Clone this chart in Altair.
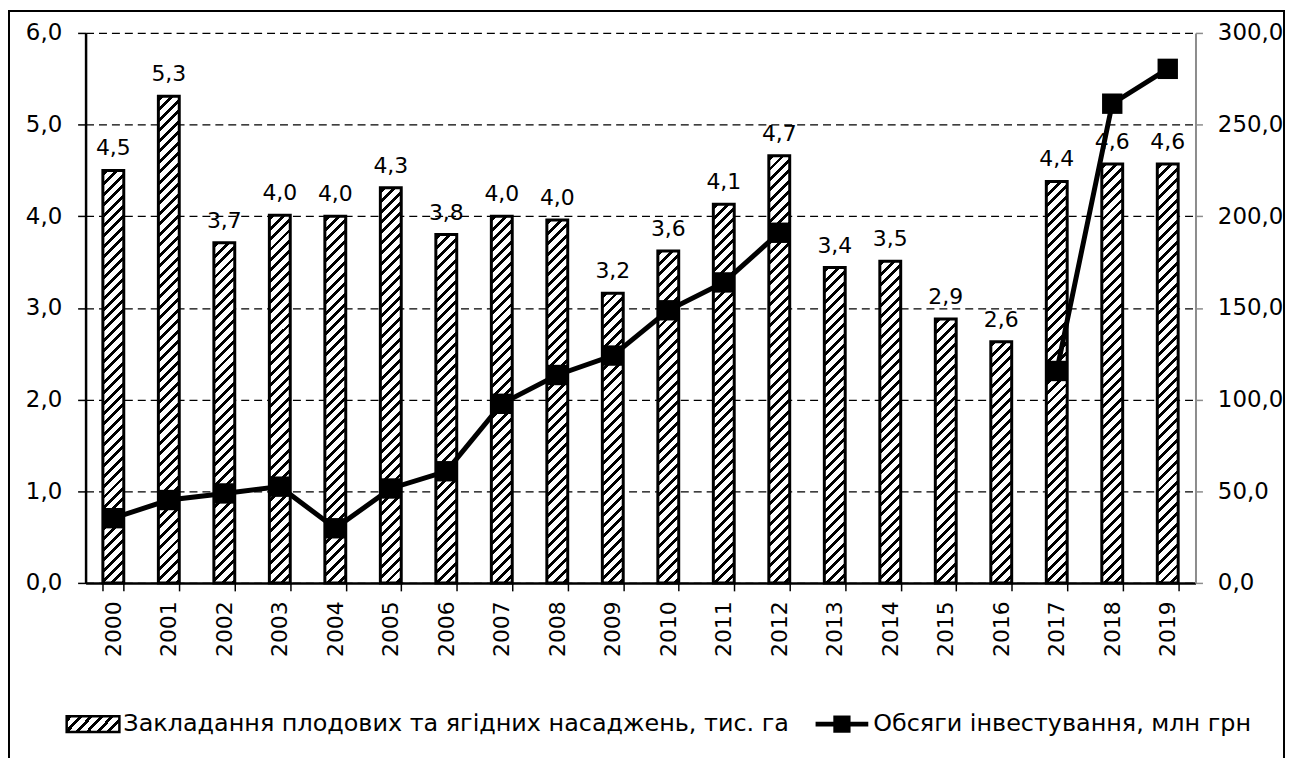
import altair as alt
import pandas as pd

# ---------------- data ----------------
years = [str(y) for y in range(2000, 2020)]
plantings = [4.50, 5.31, 3.71, 4.01, 4.00, 4.31, 3.80, 4.00, 3.96, 3.16,
             3.62, 4.13, 4.66, 3.44, 3.51, 2.88, 2.63, 4.38, 4.57, 4.57]
investment = [35.3, 45.2, 48.8, 52.5, 29.8, 51.5, 60.9, 97.7, 113.4, 124.0,
              148.7, 163.9, 191.0, None, None, None, None, 115.6, 261.4, 280.4]
left_ticks = [0, 1, 2, 3, 4, 5, 6]
right_ticks = [0, 50, 100, 150, 200, 250, 300]
legend_labels = ["Закладання плодових та ягідних насаджень, тис. га",
                 "Обсяги інвестування, млн грн"]

# ---------------- layout ----------------
W, H = 1116, 553
N = len(years)
BAR_W = 21
PI = 1 - BAR_W / (W / N)
FONT = "DejaVu Sans"
FS = 22
LBL = "replace(format(datum.value, '.1f'), '.', ',')"

bars_df = pd.DataFrame({"year": years, "v": plantings})
seg, cur, prev = [], 0, False
for val in investment:
    if val is not None and not prev:
        cur += 1
    seg.append(cur if val is not None else 0)
    prev = val is not None
line_df = pd.DataFrame({"year": years, "inv": investment, "seg": seg})
line_df = line_df[line_df["inv"].notna()]


def hatch(w, h, period=10.5, black=4.0):
    L = w + h
    k = L / (w * w + h * h)
    stops = [alt.GradientStop(offset=0, color="white")]
    s = 2.0
    while s < L:
        a = round(s / L, 5)
        b = round(min(s + black, L) / L, 5)
        stops += [alt.GradientStop(offset=a, color="white"),
                  alt.GradientStop(offset=a, color="black"),
                  alt.GradientStop(offset=b, color="black"),
                  alt.GradientStop(offset=b, color="white")]
        s += period
    stops.append(alt.GradientStop(offset=1, color="white"))
    return alt.LinearGradient(gradient="linear", stops=stops,
                              x1=0, y1=0, x2=round(k * w, 6), y2=round(k * h, 6))


x_enc = alt.X("year:O",
              scale=alt.Scale(domain=years, paddingInner=PI, paddingOuter=PI / 2),
              axis=alt.Axis(title=None, labelAngle=-90, labelFontSize=FS, labelFont=FONT,
                            labelColor="black", tickBand="extent", tickColor="black",
                            tickSize=8, tickWidth=1.5, domainColor="black", domainWidth=2.5,
                            labelPadding=10, grid=False))

y_left = alt.Y("v:Q",
               scale=alt.Scale(domain=[0, 6], nice=False),
               axis=alt.Axis(title=None, orient="left", values=left_ticks, labelExpr=LBL,
                             grid=True, gridColor="black", gridDash=[8, 5], gridWidth=1.3,
                             domainColor="black", domainWidth=2.5, tickColor="black",
                             tickSize=8, tickWidth=1.5, labelFontSize=23, labelFont=FONT,
                             labelColor="black", labelPadding=16))

y_right = alt.Y("inv:Q",
                scale=alt.Scale(domain=[0, 300], nice=False),
                axis=alt.Axis(title=None, orient="right", values=right_ticks, labelExpr=LBL,
                              grid=False, domainColor="#8c8c8c", domainWidth=2,
                              tickColor="#8c8c8c", tickSize=7, tickWidth=1.5,
                              labelFontSize=23, labelFont=FONT, labelColor="black",
                              labelPadding=15))

base = alt.Chart(bars_df)
bar_layers = []
for yr, v in zip(years, plantings):
    bar_layers.append(
        base.transform_filter(alt.datum.year == yr)
        .mark_bar(fill=hatch(BAR_W, v * H / 6), stroke="black", strokeWidth=3)
        .encode(x=x_enc, y=y_left)
    )
labels = base.transform_calculate(
    lbl="replace(format(datum.v, '.1f'), '.', ',')"
).mark_text(dy=-15, baseline="alphabetic", fontSize=FS, font=FONT, color="black").encode(
    x=x_enc, y=y_left, text="lbl:N")
bars_layer = alt.layer(*bar_layers, labels)

lbase = alt.Chart(line_df)
line = lbase.mark_line(color="black", strokeWidth=5).encode(x=x_enc, y=y_right, detail="seg:N")
pts = lbase.mark_point(shape="square", filled=True, size=420, color="black", opacity=1).encode(
    x=x_enc, y=y_right)
line_layer = alt.layer(line, pts)

one = alt.Chart(alt.Data(values=[{"k": 0}]))
frame = one.mark_rect(fill="white", fillOpacity=0, stroke="black", strokeWidth=2).encode(
    x=alt.value(-77), x2=alt.value(1205), y=alt.value(-22), y2=alt.value(800))
LY = 695
leg_box = one.mark_rect(fill=hatch(53, 15, period=10.5, black=4), stroke="black",
                        strokeWidth=2.5).encode(
    x=alt.value(-19), x2=alt.value(34), y=alt.value(LY - 8), y2=alt.value(LY + 8))
leg_t1 = one.mark_text(align="left", baseline="middle", fontSize=24, font=FONT,
                       color="black").encode(
    x=alt.value(38), y=alt.value(LY), text=alt.value(legend_labels[0]))
leg_rule = one.mark_rule(color="black", strokeWidth=5).encode(
    x=alt.value(734), x2=alt.value(787), y=alt.value(LY))
leg_pt = one.mark_point(shape="square", filled=True, size=300, color="black", opacity=1).encode(
    x=alt.value(760.5), y=alt.value(LY))
leg_t2 = one.mark_text(align="left", baseline="middle", fontSize=24, font=FONT,
                       color="black").encode(
    x=alt.value(792), y=alt.value(LY), text=alt.value(legend_labels[1]))

chart = alt.layer(frame, bars_layer, line_layer, leg_box, leg_t1, leg_rule, leg_pt, leg_t2).resolve_scale(
    y="independent"
).properties(
    width=W, height=H,
    autosize=alt.AutoSizeParams(type="none"),
    padding={"left": 78, "top": 23, "right": 90, "bottom": 174},
    background="white",
).configure_view(stroke="transparent")

chart.save("out.html", embed_options={"renderer": "svg", "actions": False})
